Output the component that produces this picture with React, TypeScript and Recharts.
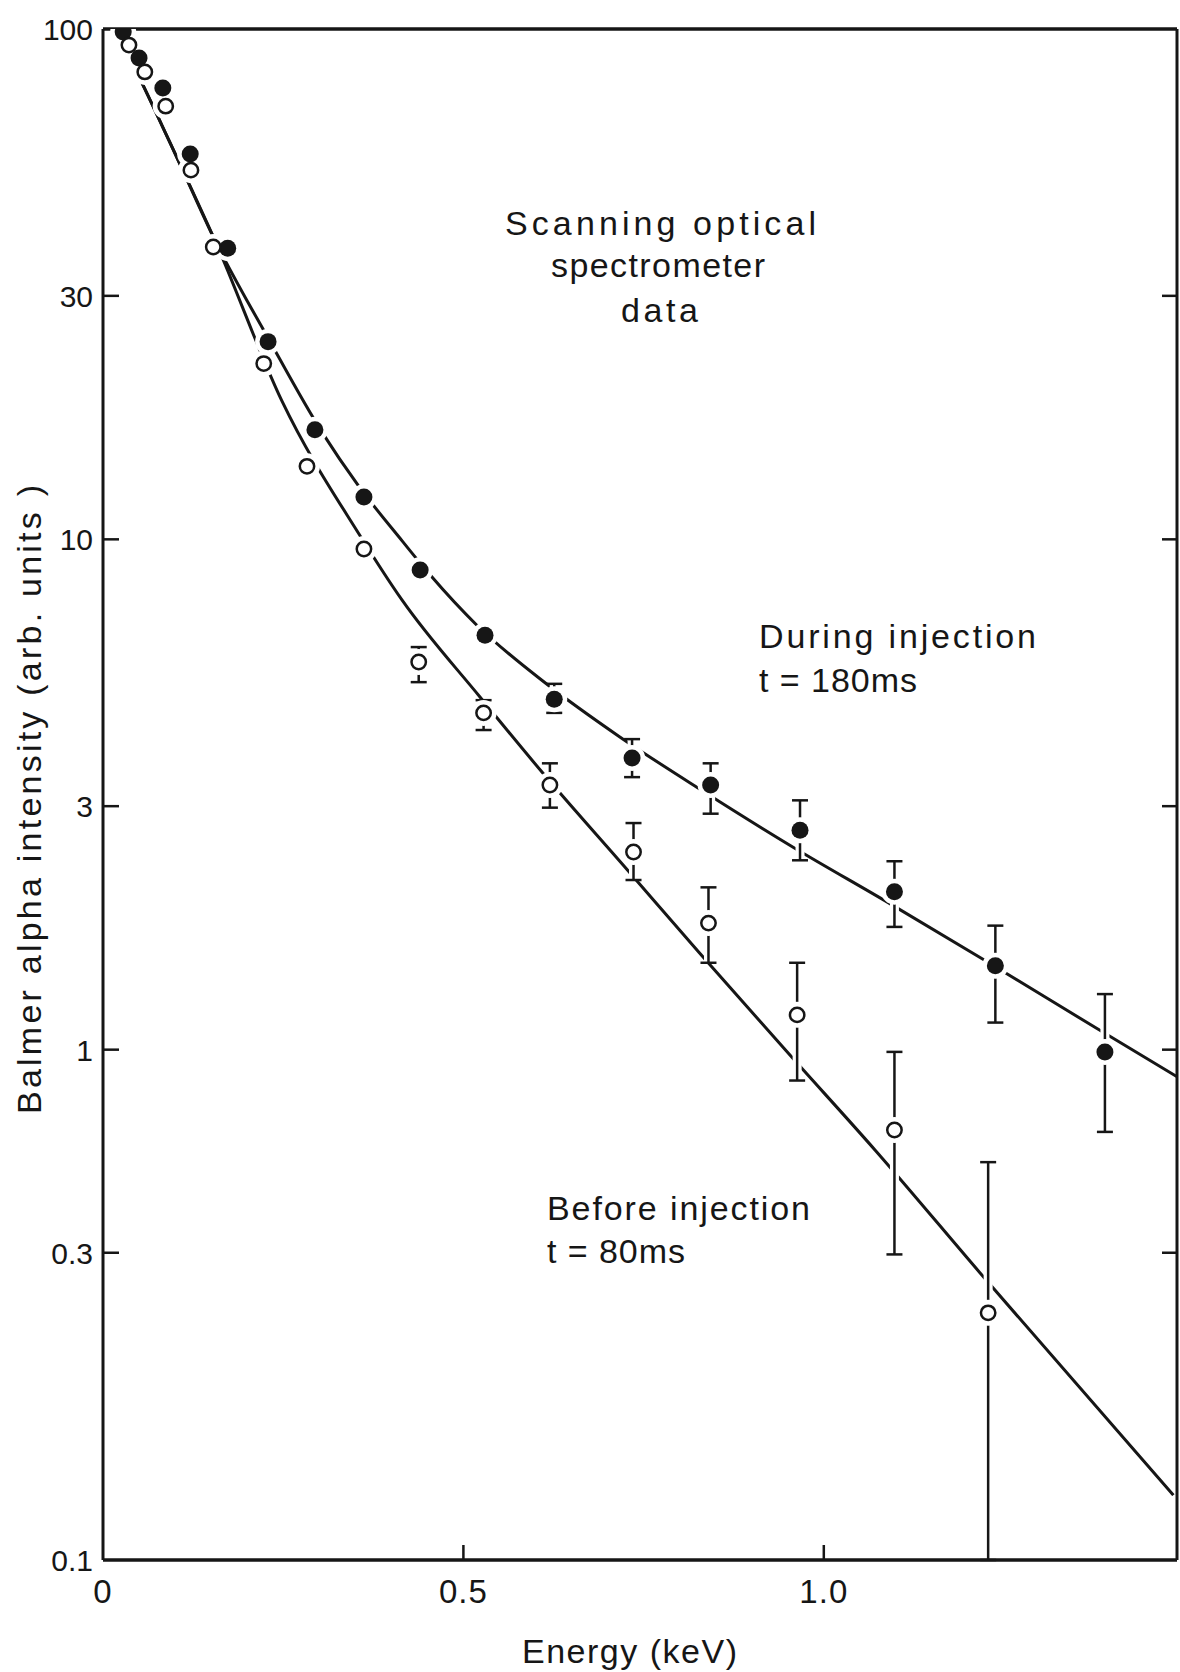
import React from 'react';
import { ComposedChart, Line, Scatter, XAxis, YAxis, ErrorBar } from 'recharts';

const INK = '#161616';
const FONT = "'Liberation Sans', Arial, Helvetica, sans-serif";

// ---- Measured points: during injection (t = 180 ms), filled circles ----
const duringEnergy = [0.028, 0.05, 0.083, 0.121, 0.173, 0.229, 0.294, 0.362, 0.44, 0.53, 0.626, 0.734, 0.843, 0.967, 1.098, 1.238, 1.39];
const duringIntensity = [98.7, 87.7, 76.6, 56.9, 37.2, 24.4, 16.4, 12.1, 8.71, 6.49, 4.86, 3.73, 3.3, 2.69, 2.04, 1.46, 0.99];
const duringErrLow = [null, null, null, null, null, null, null, null, null, null, 4.57, 3.42, 2.9, 2.35, 1.74, 1.13, 0.69];
const duringErrHigh = [null, null, null, null, null, null, null, null, null, null, 5.21, 4.06, 3.64, 3.08, 2.34, 1.75, 1.285];

// ---- Measured points: before injection (t = 80 ms), open circles ----
const beforeEnergy = [0.036, 0.058, 0.087, 0.122, 0.153, 0.223, 0.283, 0.362, 0.438, 0.528, 0.62, 0.736, 0.84, 0.963, 1.098, 1.228];
const beforeIntensity = [93.0, 82.4, 70.6, 52.9, 37.4, 22.1, 13.9, 9.57, 5.75, 4.57, 3.3, 2.44, 1.77, 1.17, 0.696, 0.305];
const beforeErrLow = [null, null, null, null, null, null, null, null, 5.25, 4.23, 2.98, 2.15, 1.48, 0.87, 0.397, 0.1];
const beforeErrHigh = [null, null, null, null, null, null, null, null, 6.15, 4.84, 3.64, 2.78, 2.08, 1.48, 0.99, 0.602];

// ---- Hand-drawn fitted curves ----
const duringCurveEnergy = [0.017, 0.05, 0.104, 0.155, 0.229, 0.304, 0.355, 0.415, 0.454, 0.519, 0.616, 0.717, 0.831, 0.958, 1.087, 1.222, 1.379, 1.49];
const duringCurveIntensity = [100, 80.6, 55.4, 38.6, 24.8, 16.2, 12.7, 9.93, 8.51, 6.78, 5.2, 4.1, 3.22, 2.49, 1.95, 1.5, 1.1, 0.885];
const beforeCurveEnergy = [0.017, 0.05, 0.104, 0.155, 0.248, 0.356, 0.415, 0.523, 0.609, 0.724, 0.827, 0.953, 1.071, 1.222, 1.485];
const beforeCurveIntensity = [100, 80.6, 55.4, 38.6, 18.7, 10.2, 7.6, 4.91, 3.5, 2.28, 1.55, 0.976, 0.636, 0.358, 0.134];

// ---- Axis ticks ----
const xTickValues = [0, 0.5, 1.0];
const xTickLabels = ['0', '0.5', '1.0'];
// the original figure prints its "0.3" tick where 0.4 lies on the log scale
const yTickValues = [0.1, 0.4, 1, 3, 10, 30, 100];
const yTickLabels = ['0.1', '0.3', '1', '3', '10', '30', '100'];

const X_DOMAIN: [number, number] = [0, 1.49];
const Y_DOMAIN: [number, number] = [0.1, 100];

type Pt = { E: number; v: number; err?: [number, number] };
const buildPoints = (E: number[], V: number[], lo: (number | null)[], hi: (number | null)[]): Pt[] =>
  E.map((e, i) => {
    const l = lo[i];
    const h = hi[i];
    return l != null && h != null ? { E: e, v: V[i], err: [V[i] - l, h - V[i]] } : { E: e, v: V[i] };
  });
const buildCurve = (E: number[], V: number[]) => E.map((e, i) => ({ E: e, v: V[i] }));

const duringPoints = buildPoints(duringEnergy, duringIntensity, duringErrLow, duringErrHigh);
const beforePoints = buildPoints(beforeEnergy, beforeIntensity, beforeErrLow, beforeErrHigh);
const duringCurve = buildCurve(duringCurveEnergy, duringCurveIntensity);
const beforeCurve = buildCurve(beforeCurveEnergy, beforeCurveIntensity);

const TICK_LEN = 15;

const LeftTick = ({ x, y, payload }: any) => {
  const i = yTickValues.indexOf(payload.value);
  const inner = i > 0 && i < yTickValues.length - 1;
  return (
    <g>
      {inner && <line x1={x} x2={x + TICK_LEN + 1} y1={y} y2={y} stroke={INK} strokeWidth={2.5} />}
      <text x={x - 10} y={y + 11} textAnchor="end" fontSize={30} fontFamily={FONT} fill={INK}>
        {yTickLabels[i]}
      </text>
    </g>
  );
};

const RightTick = ({ x, y, payload }: any) => {
  const i = yTickValues.indexOf(payload.value);
  const inner = i > 0 && i < yTickValues.length - 1;
  return inner ? <line x1={x - TICK_LEN} x2={x} y1={y} y2={y} stroke={INK} strokeWidth={2.5} /> : <g />;
};

const BottomTick = ({ x, y, payload }: any) => {
  const i = xTickValues.indexOf(payload.value);
  return (
    <g>
      {i > 0 && <line x1={x} x2={x} y1={y} y2={y - TICK_LEN} stroke={INK} strokeWidth={2.5} />}
      <text x={x} y={y + 43} textAnchor="middle" fontSize={33} fontFamily={FONT} fill={INK} letterSpacing={1}>
        {xTickLabels[i]}
      </text>
    </g>
  );
};

const TopTick = ({ x, y, payload }: any) => {
  const i = xTickValues.indexOf(payload.value);
  return i > 0 ? <line x1={x} x2={x} y1={y} y2={y + TICK_LEN + 1} stroke={INK} strokeWidth={2.5} /> : <g />;
};

const HaloShape = (p: any) => <circle cx={p.cx} cy={p.cy} r={13} fill="#ffffff" />;
const FilledShape = (p: any) => <circle cx={p.cx} cy={p.cy} r={8.5} fill={INK} />;
const OpenShape = (p: any) => <circle cx={p.cx} cy={p.cy} r={7.2} fill="#ffffff" stroke={INK} strokeWidth={2.5} />;

const annotations = [
  { text: 'Scanning optical', x: 505, y: 235, len: 311 },
  { text: 'spectrometer', x: 551, y: 277, len: 214 },
  { text: 'data', x: 621, y: 322, len: 77 },
  { text: 'During injection', x: 759, y: 648, len: 277 },
  { text: 't = 180ms', x: 759, y: 692, len: 158 },
  { text: 'Before injection', x: 547, y: 1220, len: 263 },
  { text: 't = 80ms', x: 547, y: 1263, len: 138 },
];

// Plot frame: left 103, top 29, right 1177, bottom 1560
export default function App() {
  return (
    <div style={{ position: 'absolute', left: 0, top: 0, width: 1180, height: 1672, background: '#ffffff' }}>
      <ComposedChart width={1180} height={1672} margin={{ top: 19, right: 0, bottom: 52, left: 43 }}>
        <Line
          data={beforeCurve}
          dataKey="v"
          type="monotone"
          stroke={INK}
          strokeWidth={3}
          dot={false}
          activeDot={false}
          isAnimationActive={false}
        />
        <Line
          data={duringCurve}
          dataKey="v"
          type="monotone"
          stroke={INK}
          strokeWidth={3}
          dot={false}
          activeDot={false}
          isAnimationActive={false}
        />
        <Scatter data={duringPoints} shape={HaloShape} isAnimationActive={false}>
          <ErrorBar dataKey="err" direction="y" width={0} stroke="#ffffff" strokeWidth={9} />
        </Scatter>
        <Scatter data={beforePoints} shape={HaloShape} isAnimationActive={false}>
          <ErrorBar dataKey="err" direction="y" width={0} stroke="#ffffff" strokeWidth={9} />
        </Scatter>
        <Scatter data={duringPoints} shape={FilledShape} isAnimationActive={false}>
          <ErrorBar dataKey="err" direction="y" width={8} stroke={INK} strokeWidth={2.5} />
        </Scatter>
        <Scatter data={beforePoints} shape={OpenShape} isAnimationActive={false}>
          <ErrorBar dataKey="err" direction="y" width={8} stroke={INK} strokeWidth={2.5} />
        </Scatter>

        <XAxis
          dataKey="E"
          type="number"
          domain={X_DOMAIN}
          allowDataOverflow
          ticks={xTickValues}
          interval={0}
          height={60}
          tickSize={0}
          tickMargin={0}
          tickLine={false}
          axisLine={{ stroke: INK, strokeWidth: 3.5 }}
          tick={BottomTick}
        />
        <XAxis
          xAxisId="top"
          orientation="top"
          type="number"
          domain={X_DOMAIN}
          allowDataOverflow
          ticks={xTickValues}
          interval={0}
          height={10}
          tickSize={0}
          tickMargin={0}
          tickLine={false}
          axisLine={{ stroke: INK, strokeWidth: 3.5 }}
          tick={TopTick}
        />
        <YAxis
          dataKey="v"
          type="number"
          scale="log"
          domain={Y_DOMAIN}
          allowDataOverflow
          ticks={yTickValues}
          interval={0}
          width={60}
          tickSize={0}
          tickMargin={0}
          tickLine={false}
          axisLine={{ stroke: INK, strokeWidth: 3 }}
          tick={LeftTick}
        />
        <YAxis
          yAxisId="right"
          orientation="right"
          type="number"
          scale="log"
          domain={Y_DOMAIN}
          allowDataOverflow
          ticks={yTickValues}
          interval={0}
          width={3}
          tickSize={0}
          tickMargin={0}
          tickLine={false}
          axisLine={{ stroke: INK, strokeWidth: 3 }}
          tick={RightTick}
        />
      </ComposedChart>
      <svg
        width={1180}
        height={1672}
        style={{ position: 'absolute', left: 0, top: 0, pointerEvents: 'none' }}
      >
        {annotations.map((a) => (
          <text
            key={a.text}
            x={a.x}
            y={a.y}
            fontSize={34}
            fontFamily={FONT}
            fill={INK}
            textLength={a.len}
            lengthAdjust="spacing"
          >
            {a.text}
          </text>
        ))}
        <text x={522} y={1663} fontSize={34} fontFamily={FONT} fill={INK} textLength={215} lengthAdjust="spacing">
          Energy (keV)
        </text>
        <text
          transform="translate(41,800) rotate(-90)"
          x={-314}
          y={0}
          fontSize={34}
          fontFamily={FONT}
          fill={INK}
          textLength={629}
          lengthAdjust="spacing"
        >
          Balmer alpha intensity (arb. units )
        </text>
      </svg>
    </div>
  );
}
